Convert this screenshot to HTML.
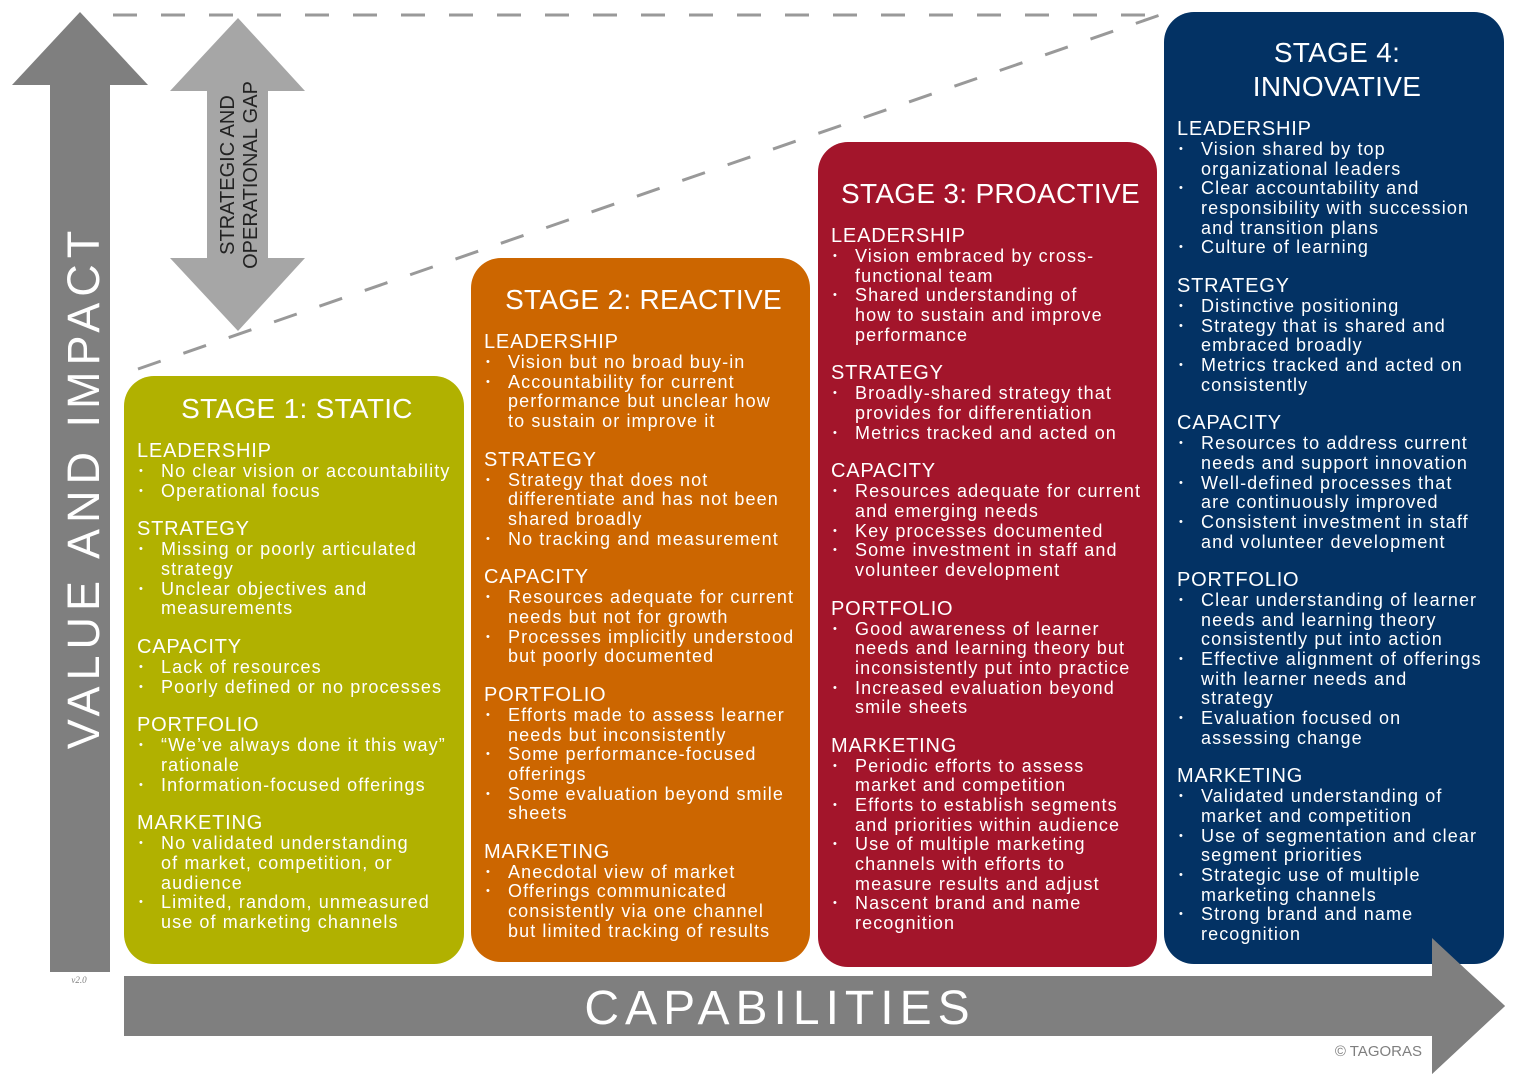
<!DOCTYPE html>
<html><head><meta charset="utf-8">
<style>
html,body{margin:0;padding:0;background:#fff;}
body{width:1528px;height:1084px;position:relative;overflow:hidden;font-family:"Liberation Sans",sans-serif;color:#fff;}
svg{position:absolute;left:0;top:0;}
.box{position:absolute;border-radius:30px;}
.c{position:absolute;left:13px;right:0px;font-size:18px;line-height:19.65px;letter-spacing:1.1px;white-space:nowrap;}
.t{font-size:28px;line-height:34px;text-align:center;letter-spacing:0.3px;margin-left:-7px;}
.h{font-size:20px;line-height:21px;margin-top:18px;letter-spacing:0.8px;}
.t + .h{margin-top:15px;}
.i{position:relative;padding-left:24px;}
.i:before{content:"•";position:absolute;left:2px;top:0;font-size:11px;}
</style></head><body>
<svg width="1528" height="1084" viewBox="0 0 1528 1084">
  <line x1="113" y1="15" x2="1162" y2="15" stroke="#999" stroke-width="3" stroke-dasharray="24 24"/>
  <line x1="138" y1="369" x2="1160" y2="15" stroke="#999" stroke-width="3" stroke-dasharray="24 24"/>
  <polygon points="80,12 148,85 110,85 110,972 50,972 50,85 12,85" fill="#7f7f7f"/>
  <polygon points="238,18 305,91 268,91 268,258 305,258 238,331 170,258 207,258 207,91 170,91" fill="#a6a6a6"/>
  <polygon points="124,976 1432,976 1432,938 1505,1006 1432,1074 1432,1036 124,1036" fill="#7f7f7f"/>
  <text x="0" y="0" transform="translate(99,487) rotate(-90)" text-anchor="middle" font-family="Liberation Sans" font-size="45" fill="#fff" letter-spacing="6">VALUE AND IMPACT</text>
  <text transform="translate(234,175) rotate(-90)" text-anchor="middle" font-family="Liberation Sans" font-size="20" fill="#222">STRATEGIC AND</text>
  <text transform="translate(257,175) rotate(-90)" text-anchor="middle" font-family="Liberation Sans" font-size="20" fill="#222">OPERATIONAL GAP</text>
  <text x="780" y="1024" text-anchor="middle" font-family="Liberation Sans" font-size="48" fill="#fff" letter-spacing="6">CAPABILITIES</text>
  <text x="1422" y="1056" text-anchor="end" font-family="Liberation Sans" font-size="15" fill="#7f7f7f">© TAGORAS</text>
  <text x="79" y="983" text-anchor="middle" font-family="Liberation Serif" font-style="italic" font-size="9" fill="#7f7f7f">v2.0</text>
</svg>

<div class="box" style="left:124px;top:376px;width:340px;height:588px;background:#b1b100;">
 <div class="c" style="top:16px;">
  <div class="t">STAGE 1: STATIC</div>
  <div class="h">LEADERSHIP</div>
  <div class="i">No clear vision or accountability</div>
  <div class="i">Operational focus</div>
  <div class="h">STRATEGY</div>
  <div class="i">Missing or poorly articulated<br>strategy</div>
  <div class="i">Unclear objectives and<br>measurements</div>
  <div class="h">CAPACITY</div>
  <div class="i">Lack of resources</div>
  <div class="i">Poorly defined or no processes</div>
  <div class="h">PORTFOLIO</div>
  <div class="i">“We’ve always done it this way”<br>rationale</div>
  <div class="i">Information-focused offerings</div>
  <div class="h">MARKETING</div>
  <div class="i">No validated understanding<br>of market, competition, or<br>audience</div>
  <div class="i">Limited, random, unmeasured<br>use of marketing channels</div>
 </div>
</div>

<div class="box" style="left:471px;top:258px;width:339px;height:704px;background:#cc6600;">
 <div class="c" style="top:25px;">
  <div class="t">STAGE 2: REACTIVE</div>
  <div class="h">LEADERSHIP</div>
  <div class="i">Vision but no broad buy-in</div>
  <div class="i">Accountability for current<br>performance but unclear how<br>to sustain or improve it</div>
  <div class="h">STRATEGY</div>
  <div class="i">Strategy that does not<br>differentiate and has not been<br>shared broadly</div>
  <div class="i">No tracking and measurement</div>
  <div class="h">CAPACITY</div>
  <div class="i">Resources adequate for current<br>needs but not for growth</div>
  <div class="i">Processes implicitly understood<br>but poorly documented</div>
  <div class="h">PORTFOLIO</div>
  <div class="i">Efforts made to assess learner<br>needs but inconsistently</div>
  <div class="i">Some performance-focused<br>offerings</div>
  <div class="i">Some evaluation beyond smile<br>sheets</div>
  <div class="h">MARKETING</div>
  <div class="i">Anecdotal view of market</div>
  <div class="i">Offerings communicated<br>consistently via one channel<br>but limited tracking of results</div>
 </div>
</div>

<div class="box" style="left:818px;top:142px;width:339px;height:825px;background:#a3152b;">
 <div class="c" style="top:35px;">
  <div class="t">STAGE 3: PROACTIVE</div>
  <div class="h">LEADERSHIP</div>
  <div class="i">Vision embraced by cross-<br>functional team</div>
  <div class="i">Shared understanding of<br>how to sustain and improve<br>performance</div>
  <div class="h">STRATEGY</div>
  <div class="i">Broadly-shared strategy that<br>provides for differentiation</div>
  <div class="i">Metrics tracked and acted on</div>
  <div class="h">CAPACITY</div>
  <div class="i">Resources adequate for current<br>and emerging needs</div>
  <div class="i">Key processes documented</div>
  <div class="i">Some investment in staff and<br>volunteer development</div>
  <div class="h">PORTFOLIO</div>
  <div class="i">Good awareness of learner<br>needs and learning theory but<br>inconsistently put into practice</div>
  <div class="i">Increased evaluation beyond<br>smile sheets</div>
  <div class="h">MARKETING</div>
  <div class="i">Periodic efforts to assess<br>market and competition</div>
  <div class="i">Efforts to establish segments<br>and priorities within audience</div>
  <div class="i">Use of multiple marketing<br>channels with efforts to<br>measure results and adjust</div>
  <div class="i">Nascent brand and name<br>recognition</div>
 </div>
</div>

<div class="box" style="left:1164px;top:12px;width:340px;height:952px;background:#033264;">
 <div class="c" style="top:24px;">
  <div class="t">STAGE 4:<br>INNOVATIVE</div>
  <div class="h">LEADERSHIP</div>
  <div class="i">Vision shared by top<br>organizational leaders</div>
  <div class="i">Clear accountability and<br>responsibility with succession<br>and transition plans</div>
  <div class="i">Culture of learning</div>
  <div class="h">STRATEGY</div>
  <div class="i">Distinctive positioning</div>
  <div class="i">Strategy that is shared and<br>embraced broadly</div>
  <div class="i">Metrics tracked and acted on<br>consistently</div>
  <div class="h">CAPACITY</div>
  <div class="i">Resources to address current<br>needs and support innovation</div>
  <div class="i">Well-defined processes that<br>are continuously improved</div>
  <div class="i">Consistent investment in staff<br>and volunteer development</div>
  <div class="h">PORTFOLIO</div>
  <div class="i">Clear understanding of learner<br>needs and learning theory<br>consistently put into action</div>
  <div class="i">Effective alignment of offerings<br>with learner needs and<br>strategy</div>
  <div class="i">Evaluation focused on<br>assessing change</div>
  <div class="h">MARKETING</div>
  <div class="i">Validated understanding of<br>market and competition</div>
  <div class="i">Use of segmentation and clear<br>segment priorities</div>
  <div class="i">Strategic use of multiple<br>marketing channels</div>
  <div class="i">Strong brand and name<br>recognition</div>
 </div>
</div>

<svg width="1528" height="1084" style="pointer-events:none">
  <polygon points="1432,938 1505,1006 1432,1074" fill="#7f7f7f"/>
</svg>
</body></html>
